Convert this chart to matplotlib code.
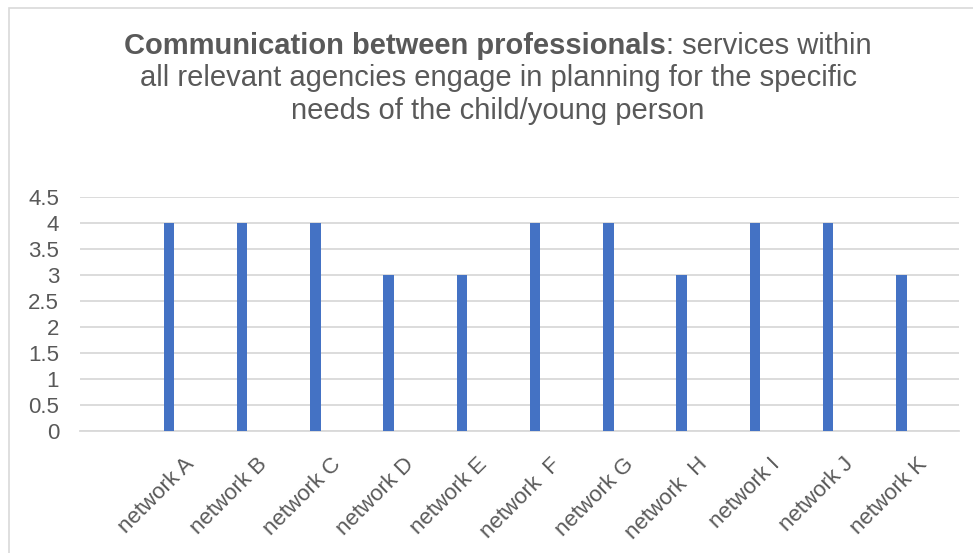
import numpy as np
import matplotlib
matplotlib.use("Agg")
import matplotlib.pyplot as plt
from matplotlib.patches import Rectangle

# data
networks = ["network A", "network B", "network C", "network D", "network E",
            "network  F", "network G", "network  H", "network I", "network J",
            "network K"]
scores = [4, 4, 4, 3, 3, 4, 4, 3, 4, 4, 3]
y_ticks = [0, 0.5, 1, 1.5, 2, 2.5, 3, 3.5, 4, 4.5]

title_bold = "Communication between professionals"
title_rest = ": services within"
title_lines = ["all relevant agencies engage in planning for the specific",
               "needs of the child/young person"]

BAR_COLOR = "#4472C4"
TEXT_COLOR = "#595959"
GRID_COLOR = "#D9D9D9"
FONT = "Liberation Sans"

fig = plt.figure(figsize=(9.73, 5.53), dpi=100)
W, H = 973, 553
ax = fig.add_axes([80 / W, 1 - 431 / H, 879 / W, 234 / H])

# Excel layout: an empty first slot, bars sit at the left of each cluster
x = np.arange(1, len(networks) + 1)
bar_w = 1 / 7
ax.bar(x - 0.5 + 1.5 * bar_w, scores, width=bar_w, color=BAR_COLOR, zorder=3)

ax.set_xlim(-0.5, len(networks) + 0.5)
ax.set_ylim(0, 4.5)
ax.set_yticks(y_ticks)
ax.set_yticklabels([f"{v:g}" for v in y_ticks], fontsize=16,
                   color=TEXT_COLOR, family=FONT)
ax.set_xticks(x)
ax.set_xticklabels([])
# category labels placed by hand so they can sit like Excel's rotated labels
for xi, name in zip(x, networks):
    ax.annotate(name, xy=(xi, 0), xycoords=("data", "axes fraction"),
                xytext=(-4.5, -16.5), textcoords="offset points",
                rotation=45, rotation_mode="anchor", ha="right", va="top",
                fontsize=16, color=TEXT_COLOR, family=FONT,
                annotation_clip=False)
ax.tick_params(axis="both", length=0)
ax.tick_params(axis="y", pad=15)
ax.grid(axis="y", color=GRID_COLOR, linewidth=1.3, zorder=0)
for side in ["left", "right", "top"]:
    ax.spines[side].set_visible(False)
ax.spines["bottom"].set_color(GRID_COLOR)
ax.spines["bottom"].set_linewidth(1.3)

# chart area border
fig.patches.append(Rectangle((9 / W, -0.1), 1.1, 1 - 8 / H + 0.1,
                             transform=fig.transFigure, fill=False,
                             edgecolor="#D9D9D9", linewidth=1.2))

# title: first line mixes bold and regular text
cx = 498 / W
fs = 21
t1 = fig.text(0, 1 - 54 / H, title_bold, fontsize=fs, fontweight="bold",
              color=TEXT_COLOR, family=FONT, va="baseline", ha="left")
t2 = fig.text(0, 1 - 54 / H, title_rest, fontsize=fs, color=TEXT_COLOR,
              family=FONT, va="baseline", ha="left")
fig.canvas.draw()
r = fig.canvas.get_renderer()
w1 = t1.get_window_extent(r).width / W
w2 = t2.get_window_extent(r).width / W
t1.set_x(cx - (w1 + w2) / 2)
t2.set_x(cx - (w1 + w2) / 2 + w1)
for i, line in enumerate(title_lines):
    fig.text(cx, 1 - (54 + 32.5 * (i + 1)) / H, line, fontsize=fs,
             color=TEXT_COLOR, family=FONT, va="baseline", ha="center")

fig.savefig("out.png", dpi=100)
